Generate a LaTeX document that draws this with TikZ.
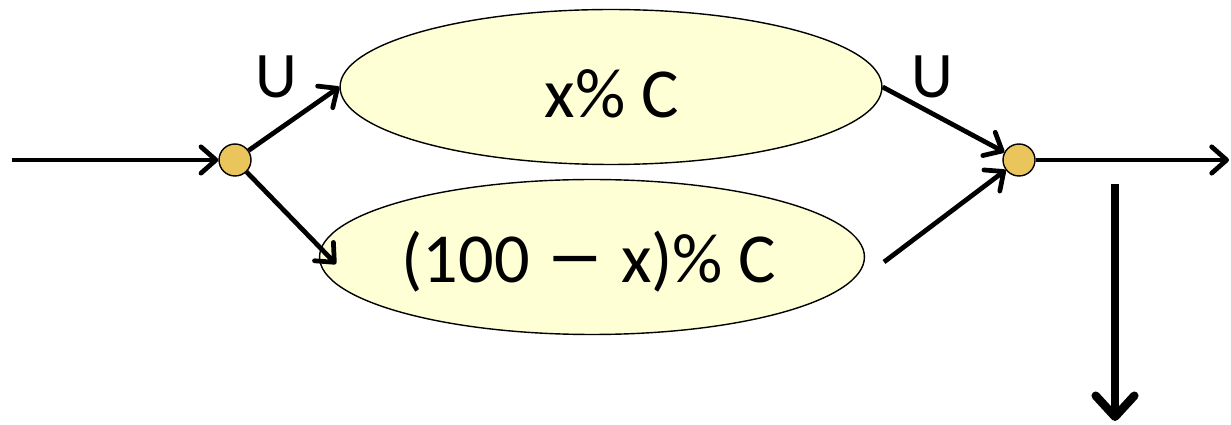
\documentclass[tikz,border=0pt]{standalone}
\usepackage{fontspec}
\setmainfont{Carlito}
\usetikzlibrary{arrows.meta, shapes.geometric}
\definecolor{blobfill}{HTML}{FFFFD6}
\definecolor{juncfill}{HTML}{EAC55B}

\begin{document}
\begin{tikzpicture}[x=0.02cm, y=-0.02cm,
    blob/.style={draw, ellipse, fill=blobfill, line width=0.8pt, minimum width=10.84cm,
                 minimum height=3.1cm, inner sep=0pt},
    junc/.style={draw, circle, fill=juncfill, line width=0.8pt, minimum size=0.64cm, inner sep=0pt},
    txt/.style={font=\fontsize{40}{46}\selectfont, anchor=base, inner sep=0pt},
    lbl/.style={font=\fontsize{37}{42}\selectfont, anchor=base, inner sep=0pt},
    arrow/.style={-{Straight Barb[round, length=8.5pt, width=15pt]}, line width=2.7pt},
    bigarrow/.style={-{Straight Barb[round, length=12pt, width=22pt]}, line width=4.8pt}
  ]
    \useasboundingbox (0,0) rectangle (1231,425);

    % Branches
    \node[blob] (upper) at (611,87) {};
    \node[blob, minimum width=10.9cm] (lower) at (592,257) {};
    \node[txt] (uppertxt) at (612,118) {x\% C};
    \node[txt] (lowertxt) at (589,283) {(100 \scalebox{1.7}[1.2]{–} x)\% C};

    % Junctions
    \node[junc] (split) at (235,160) {};
    \node[junc] (merge) at (1019,160) {};

    % Labels
    \node[lbl] (uin) at (276,98) {U};
    \node[lbl] (uout) at (932,98) {U};

    % Free ends
    \coordinate (src) at (12,160);
    \coordinate (sink) at (1229,160);
    \coordinate (lowin) at (336,264);
    \coordinate (lowout) at (884,262);
    \coordinate (droptop) at (1115,184);
    \coordinate (dropend) at (1115,421);

    % Arrows
    \draw[arrow] (src) -- (split);
    \draw[arrow] (split) -- (upper.west);
    \draw[arrow] (split) -- (lowin);
    \draw[arrow] (upper.east) -- (merge);
    \draw[arrow] (lowout) -- (merge);
    \draw[arrow] (merge) -- (sink);
    \draw[bigarrow] (droptop) -- (dropend);
\end{tikzpicture}
\end{document}
